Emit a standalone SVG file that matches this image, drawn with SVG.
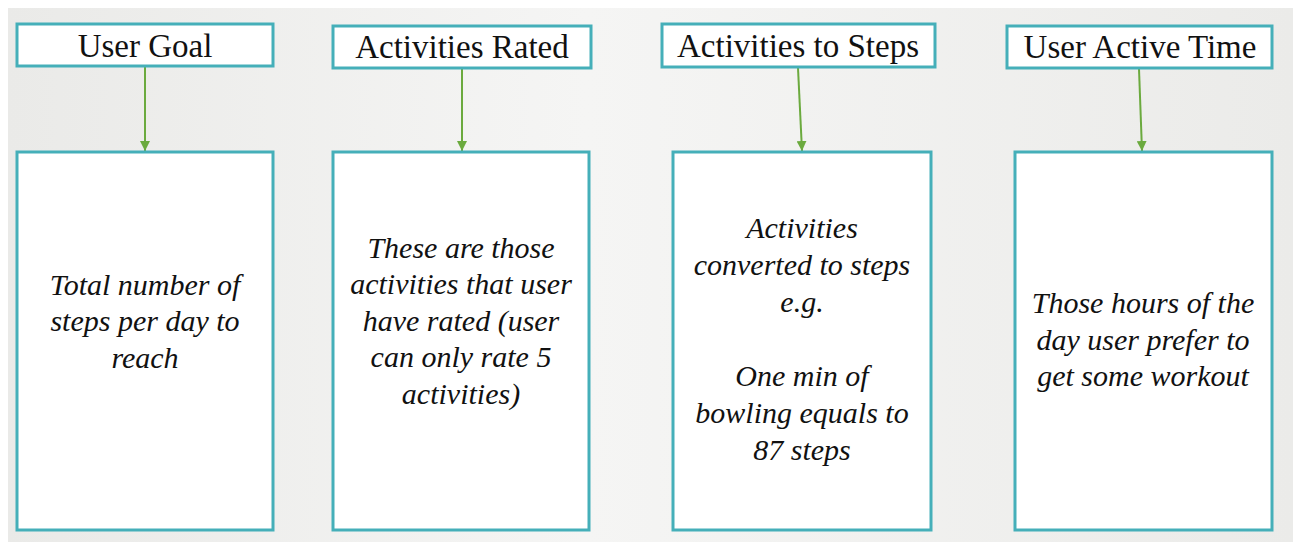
<svg xmlns="http://www.w3.org/2000/svg" width="1293" height="542" viewBox="0 0 1293 542">
  <defs>
    <linearGradient id="bg" x1="0" y1="0" x2="1" y2="0">
      <stop offset="0" stop-color="#EAEAE8"/>
      <stop offset="0.45" stop-color="#F5F5F4"/>
      <stop offset="1" stop-color="#EBEBE9"/>
    </linearGradient>
    <marker id="arrow" viewBox="0 0 10 10" refX="10" refY="5" markerWidth="10" markerHeight="10" markerUnits="userSpaceOnUse" orient="auto">
      <path d="M0,0 L10,5 L0,10 Z" fill="#6BAA3E"/>
    </marker>
    <style>
      .box { fill: #FFFFFF; stroke: #45AFB9; stroke-width: 3; }
      .head { font-family: "Liberation Serif", "Times New Roman", serif; font-size: 33px; fill: #111111; text-anchor: middle; }
      .body { font-family: "Liberation Serif", "Times New Roman", serif; font-size: 30px; font-style: italic; fill: #111111; text-anchor: middle; }
      .link { stroke: #6BAA3E; stroke-width: 2; fill: none; marker-end: url(#arrow); }
    </style>
  </defs>

  <!-- backdrop -->
  <rect x="0" y="0" width="1293" height="542" fill="#FFFFFF"/>
  <rect x="8" y="8" width="1285" height="534" fill="url(#bg)"/>

  <!-- connectors -->
  <g id="connectors">
    <line class="link" x1="145" y1="67" x2="145" y2="151"/>
    <line class="link" x1="462" y1="69" x2="462" y2="151"/>
    <line class="link" x1="798" y1="68" x2="802" y2="151"/>
    <line class="link" x1="1139" y1="69" x2="1142" y2="151"/>
  </g>

  <!-- column 1 -->
  <g id="user-goal">
    <rect class="box" x="17" y="24" width="256" height="42"/>
    <text class="head" x="145" y="57">User Goal</text>
  </g>
  <g id="user-goal-detail">
    <rect class="box" x="17" y="152" width="256" height="378"/>
    <text class="body" x="145" y="295">Total number of</text>
    <text class="body" x="145" y="331">steps per day to</text>
    <text class="body" x="145" y="368">reach</text>
  </g>

  <!-- column 2 -->
  <g id="activities-rated">
    <rect class="box" x="333" y="26" width="258" height="42"/>
    <text class="head" x="462" y="58">Activities Rated</text>
  </g>
  <g id="activities-rated-detail">
    <rect class="box" x="333" y="152" width="256" height="378"/>
    <text class="body" x="461" y="258">These are those</text>
    <text class="body" x="461" y="294">activities that user</text>
    <text class="body" x="461" y="331">have rated (user</text>
    <text class="body" x="461" y="367">can only rate 5</text>
    <text class="body" x="461" y="404">activities)</text>
  </g>

  <!-- column 3 -->
  <g id="activities-to-steps">
    <rect class="box" x="662" y="24" width="273" height="43"/>
    <text class="head" x="798" y="57">Activities to Steps</text>
  </g>
  <g id="activities-to-steps-detail">
    <rect class="box" x="673" y="152" width="258" height="378"/>
    <text class="body" x="802" y="238">Activities</text>
    <text class="body" x="802" y="275">converted to steps</text>
    <text class="body" x="802" y="312">e.g.</text>
    <text class="body" x="802" y="386">One min of</text>
    <text class="body" x="802" y="423">bowling equals to</text>
    <text class="body" x="802" y="460">87 steps</text>
  </g>

  <!-- column 4 -->
  <g id="user-active-time">
    <rect class="box" x="1007" y="26" width="265" height="42"/>
    <text class="head" x="1140" y="58">User Active Time</text>
  </g>
  <g id="user-active-time-detail">
    <rect class="box" x="1015" y="152" width="257" height="378"/>
    <text class="body" x="1143" y="313">Those hours of the</text>
    <text class="body" x="1143" y="350">day user prefer to</text>
    <text class="body" x="1143" y="386">get some workout</text>
  </g>
</svg>
